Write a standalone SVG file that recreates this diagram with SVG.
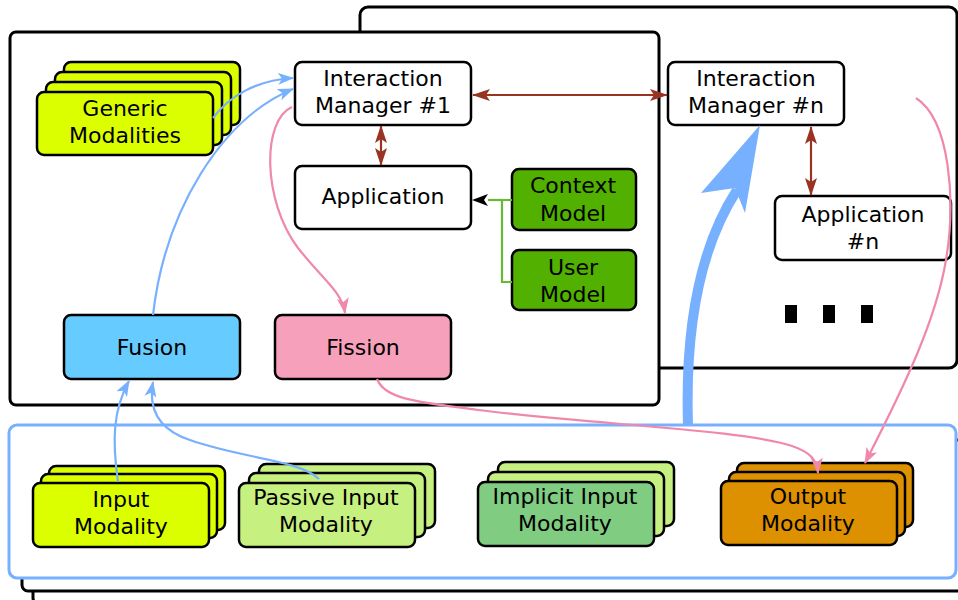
<svg xmlns="http://www.w3.org/2000/svg" width="958" height="600" viewBox="0 0 958 600">
<defs>
<style>
.frame{fill:#fff;stroke:#000;stroke-width:3}
.box{stroke:#000;stroke-width:2.5}
.w{fill:#fff}
.lime{fill:#dcff00}
.pale{fill:#c6f07f}
.mid{fill:#80cc80}
.org{fill:#dd9000}
.grn{fill:#52b000}
.fus{fill:#66ccff}
.fis{fill:#f7a0bc}
text{font-family:"DejaVu Sans",Verdana,sans-serif;font-size:22px;fill:#000;text-anchor:middle}
.blue{fill:none;stroke:#77b0ff;stroke-width:2.2}
.pink{fill:none;stroke:#f088aa;stroke-width:2.2}
.brown{fill:none;stroke:#993322;stroke-width:2.2}
.green{fill:none;stroke:#66bb33;stroke-width:2.2}
</style>
<marker id="mb" markerUnits="userSpaceOnUse" viewBox="0 0 16 12" markerWidth="16" markerHeight="12" refX="15" refY="6" orient="auto"><path d="M0,0 L16,6 L0,12 L4,6 Z" fill="#77b0ff"/></marker>
<marker id="mp" markerUnits="userSpaceOnUse" viewBox="0 0 16 12" markerWidth="16" markerHeight="12" refX="15" refY="6" orient="auto"><path d="M0,0 L16,6 L0,12 L4,6 Z" fill="#f088aa"/></marker>
<marker id="mr" markerUnits="userSpaceOnUse" viewBox="0 0 18 12" markerWidth="18" markerHeight="12" refX="17" refY="6" orient="auto-start-reverse"><path d="M0,0 L18,6 L0,12 L4,6 Z" fill="#993322"/></marker>
<marker id="mk" markerUnits="userSpaceOnUse" viewBox="0 0 16 12" markerWidth="16" markerHeight="12" refX="15" refY="6" orient="auto"><path d="M0,0 L16,6 L0,12 L4,6 Z" fill="#000"/></marker>
</defs>
<rect width="958" height="600" fill="#fff"/>

<g id="frames">
<rect class="frame" x="33" y="450" width="940" height="154" rx="6"/>
<rect class="frame" x="22" y="440" width="950" height="151" rx="6"/>
<rect class="frame" x="360" y="7" width="597" height="361" rx="8"/>
<rect class="frame" x="10" y="32" width="649" height="373" rx="6"/>
<rect x="9" y="425" width="947" height="153" rx="8" fill="#fff" stroke="#77b0ff" stroke-width="3"/>
</g>

<g id="generic-modalities">
<rect class="box lime" x="64" y="62" width="176" height="63" rx="7"/>
<rect class="box lime" x="55" y="72" width="176" height="63" rx="7"/>
<rect class="box lime" x="46" y="82" width="176" height="63" rx="7"/>
<rect class="box lime" x="37" y="92" width="176" height="63" rx="7"/>
<text x="125" y="116">Generic</text>
<text x="125" y="143">Modalities</text>
</g>

<g id="im1">
<rect class="box w" x="295" y="62" width="176" height="63" rx="7"/>
<text x="383" y="86">Interaction</text>
<text x="383" y="113">Manager #1</text>
</g>

<g id="app1">
<rect class="box w" x="295" y="166" width="176" height="63" rx="7"/>
<text x="383" y="204">Application</text>
</g>

<g id="context-model">
<rect class="box grn" x="512" y="169" width="124" height="61" rx="7"/>
<text x="573" y="193">Context</text>
<text x="573" y="221">Model</text>
</g>

<g id="user-model">
<rect class="box grn" x="512" y="250" width="124" height="60" rx="7"/>
<text x="573" y="275">User</text>
<text x="573" y="302">Model</text>
</g>

<g id="fusion">
<rect class="box fus" x="64" y="315" width="176" height="64" rx="7"/>
<text x="152" y="355">Fusion</text>
</g>

<g id="fission">
<rect class="box fis" x="275" y="315" width="176" height="64" rx="7"/>
<text x="363" y="355">Fission</text>
</g>

<g id="imn">
<rect class="box w" x="668" y="62" width="176" height="63" rx="7"/>
<text x="756" y="86">Interaction</text>
<text x="756" y="113">Manager #n</text>
</g>

<g id="appn">
<rect class="box w" x="775" y="196" width="176" height="64" rx="7"/>
<text x="863" y="222">Application</text>
<text x="863" y="249">#n</text>
</g>

<g id="ellipsis">
<rect x="785" y="305" width="12" height="18" fill="#000"/>
<rect x="823" y="305" width="12" height="18" fill="#000"/>
<rect x="861" y="305" width="12" height="18" fill="#000"/>
</g>

<g id="input-modality">
<rect class="box lime" x="49" y="466" width="176" height="64" rx="7"/>
<rect class="box lime" x="41" y="474" width="176" height="64" rx="7"/>
<rect class="box lime" x="33" y="483" width="176" height="64" rx="7"/>
<text x="121" y="507">Input</text>
<text x="121" y="534">Modality</text>
</g>

<g id="passive-input-modality">
<rect class="box pale" x="259" y="464" width="176" height="64" rx="7"/>
<rect class="box pale" x="249" y="473" width="176" height="64" rx="7"/>
<rect class="box pale" x="239" y="483" width="176" height="64" rx="7"/>
<text x="326" y="505">Passive Input</text>
<text x="326" y="532">Modality</text>
</g>

<g id="implicit-input-modality">
<rect class="box pale" x="498" y="462" width="176" height="64" rx="7"/>
<rect class="box pale" x="488" y="472" width="176" height="64" rx="7"/>
<rect class="box mid" x="478" y="482" width="176" height="64" rx="7"/>
<text x="565" y="504">Implicit Input</text>
<text x="565" y="531">Modality</text>
</g>

<g id="output-modality">
<rect class="box org" x="737" y="463" width="176" height="64" rx="7"/>
<rect class="box org" x="729" y="472" width="176" height="64" rx="7"/>
<rect class="box org" x="721" y="481" width="176" height="64" rx="7"/>
<text x="808" y="504">Output</text>
<text x="808" y="531">Modality</text>
</g>

<g id="connectors">
<path class="brown" d="M381,126 L381,165" marker-start="url(#mr)" marker-end="url(#mr)"/>
<path class="brown" d="M473,95 L667,95" marker-start="url(#mr)" marker-end="url(#mr)"/>
<path class="brown" d="M811,127 L811,195" marker-start="url(#mr)" marker-end="url(#mr)"/>
<path class="green" d="M512,200 L502,200 L502,282 L512,282"/>
<path class="green" d="M502,200 L488,200"/>
<path d="M502,200 L473,200" fill="none" stroke="none" marker-end="url(#mk)"/>
<path class="blue" d="M213,118 C230,95 258,80 293,78" marker-end="url(#mb)"/>
<path class="blue" d="M153,315 C165,210 222,118 293,89" marker-end="url(#mb)"/>
<path class="pink" d="M292,107 C262,120 262,200 298,248 C325,282 342,292 345,313" marker-end="url(#mp)"/>
<path class="pink" d="M377,379 C385,400 420,402 478,410 C600,425 745,430 792,446 C810,452 817,460 818,473" marker-end="url(#mp)"/>
<path class="pink" d="M916,98 C950,120 956,200 946,260 C936,320 905,385 865,463" marker-end="url(#mp)"/>
<path class="blue" d="M118,482 C112,440 113,410 129,381" marker-end="url(#mb)"/>
<path class="blue" d="M319,479 C300,460 240,458 190,440 C160,430 148,410 153,382" marker-end="url(#mb)"/>
<path d="M688,425 C685,330 698,250 737,190" fill="none" stroke="#77b0ff" stroke-width="10"/>
<polygon points="760,125 701,193 735,188 745,213" fill="#77b0ff"/>
</g>
</svg>
